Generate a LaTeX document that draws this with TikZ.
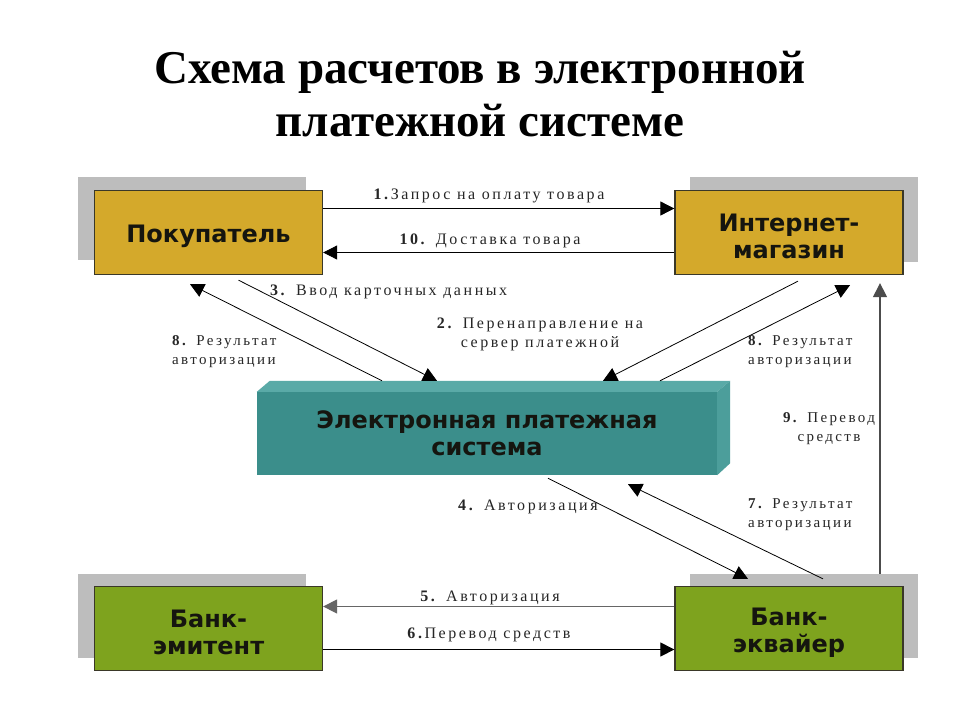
\documentclass[tikz,border=0pt]{standalone}
\usepackage{fontspec}
\setmainfont{Liberation Serif}
\newfontfamily\boxfont{DejaVu Sans}
\newfontfamily\lblfont[LetterSpace=16]{Liberation Serif}
\usetikzlibrary{arrows.meta,calc}
\definecolor{yel}{HTML}{D4A92B}
\definecolor{grn}{HTML}{7EA31E}
\definecolor{teal1}{HTML}{3B8E8B}
\definecolor{teal2}{HTML}{5AAAA7}
\definecolor{teal3}{HTML}{4C9E9B}
\definecolor{shad}{HTML}{BDBDBD}
\definecolor{edge}{HTML}{3A3828}
\definecolor{txt}{HTML}{15150F}
\begin{document}
\begin{tikzpicture}[x=1pt,y=-1pt,
  box/.style={draw=edge,line width=1.3pt,minimum width=228,minimum height=84,inner sep=0pt},
  boxtxt/.style={font=\boxfont\bfseries\fontsize{24}{27}\selectfont,text=txt,align=center,inner sep=0pt,yshift=-4pt},
  shadowbox/.style={fill=shad},
  arr/.style={line width=0.8pt,-{Triangle[length=14pt,width=14pt]}},
  lbl/.style={font=\lblfont\fontsize{16}{19}\selectfont,inner sep=0pt,text=black!85},
  lbls/.style={font=\lblfont\fontsize{15}{19}\selectfont,inner sep=0pt,text=black!85}
]
\useasboundingbox[fill=white] (0,0) rectangle (960,720);

% title
\node[font=\bfseries\fontsize{47}{53}\selectfont,align=center] (title) at (480,94)
  {Схема расчетов в электронной\\платежной системе};

% shadows
\fill[shadowbox] (78,177) rectangle (306,260);
\fill[shadowbox] (690,177) rectangle (918,262);
\fill[shadowbox] (78,574) rectangle (306,658);
\fill[shadowbox] (690,574) rectangle (918,658);

% boxes
\node[box,fill=yel,label={[boxtxt]center:Покупатель}] (buyer) at (208.5,232.5) {};
\node[box,fill=yel,label={[boxtxt]center:Интернет-\\магазин}] (shop) at (789,232.5) {};
\node[box,fill=grn,label={[boxtxt]center:Банк-\\эмитент}] (iss) at (208.5,628.5) {};
\node[box,fill=grn,label={[boxtxt]center:Банк-\\эквайер}] (acq) at (789,628.5) {};

% EPS 3D box
\node[fill=teal1,minimum width=460,minimum height=83,inner sep=0pt,
  font=\boxfont\bfseries\fontsize{24}{27}\selectfont,text=txt,align=center] (eps) at (487,433.5)
  {Электронная платежная\\система};
\fill[teal2] (eps.north west) -- ++(13,-11) -- ($(eps.north east)+(13,-11)$) -- (eps.north east) -- cycle;
\fill[teal3] (eps.north east) -- ++(13,-11) -- ($(eps.south east)+(13,-12)$) -- (eps.south east) -- cycle;

% horizontal arrows
\draw[arr] ($(buyer.east)+(0,-24)$) -- ($(shop.west)+(0,-24)$);
\draw[arr] ($(shop.west)+(0,20)$) -- ($(buyer.east)+(0,20)$);
\draw[arr,draw=black!60,line width=1.3pt] ($(acq.west)+(0,-22)$) -- ($(iss.east)+(0,-22)$);
\draw[arr,line width=1.1pt] ($(iss.east)+(0,21)$) -- ($(acq.west)+(0,21)$);

% diagonal arrows
\draw[arr] ($(buyer.south)+(30,5)$) -- ($(eps.north)+(-50,-11)$);
\draw[arr] ($(eps.north)+(-105,-11)$) -- ($(buyer.south)+(-18.5,9)$);
\draw[arr] ($(shop.south)+(9,6)$) -- ($(eps.north)+(116,-11)$);
\draw[arr] ($(eps.north)+(173,-11)$) -- ($(shop.south)+(61,10)$);
\draw[arr,draw=black!70,line width=1.2pt] ($(acq.north)+(91,-12)$) -- ($(shop.south)+(91,8)$);
\draw[arr] ($(eps.south)+(61,3)$) -- ($(acq.north)+(-41,-7)$);
\draw[arr] ($(acq.north)+(34,-7)$) -- ($(eps.south)+(141,9)$);

% labels
\node[lbl] (l1) at (489,196) {\textbf{1.}Запрос на оплату товара};
\node[lbl] (l10) at (490,241) {\textbf{10.} Доставка товара};
\node[lbl,anchor=west] (l3) at (270,292) {\textbf{3.} Ввод карточных данных};
\node[lbl,align=center] (l2) at (540,334) {\textbf{2.} Перенаправление на\\сервер платежной};
\node[lbls,align=left,anchor=west] (l8a) at (172,352) {\textbf{8.} Результат\\авторизации};
\node[lbls,align=left,anchor=west] (l8b) at (748,352) {\textbf{8.} Результат\\авторизации};
\node[lbls,align=center] (l9) at (829,429) {\textbf{9.} Перевод\\средств};
\node[lbl,anchor=west] (l4) at (458,507) {\textbf{4.} Авторизация};
\node[lbls,align=left,anchor=west] (l7) at (748,515) {\textbf{7.} Результат\\авторизации};
\node[lbl] (l5) at (490,598) {\textbf{5.} Авторизация};
\node[lbl] (l6) at (489,635) {\textbf{6.}Перевод средств};
\end{tikzpicture}
\end{document}
